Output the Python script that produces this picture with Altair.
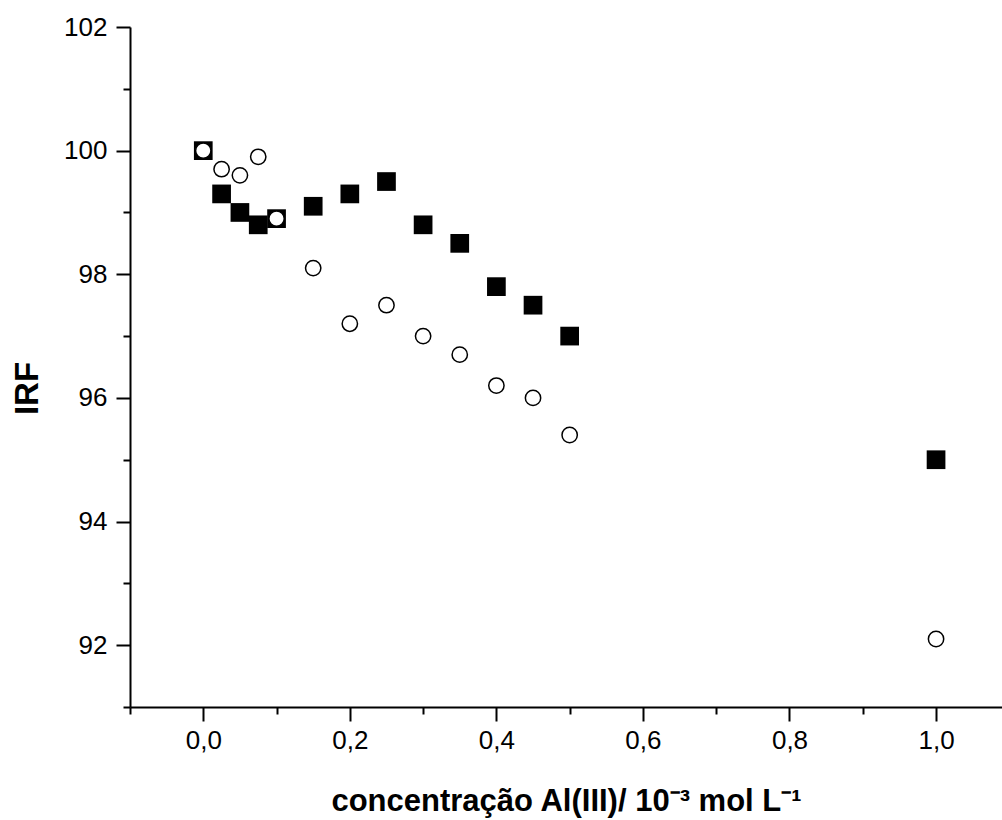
import altair as alt
import pandas as pd

# concentrations (10^-3 mol/L)
conc = [0.0, 0.025, 0.05, 0.075, 0.1, 0.15, 0.2, 0.25, 0.3, 0.35, 0.4, 0.45, 0.5, 1.0]
# filled squares
irf_squares = [100.0, 99.3, 99.0, 98.8, 98.9, 99.1, 99.3, 99.5, 98.8, 98.5, 97.8, 97.5, 97.0, 95.0]
# open circles
irf_circles = [100.0, 99.7, 99.6, 99.9, 98.9, 98.1, 97.2, 97.5, 97.0, 96.7, 96.2, 96.0, 95.4, 92.1]

x_ticks = [-0.1, 0.0, 0.1, 0.2, 0.3, 0.4, 0.5, 0.6, 0.7, 0.8, 0.9, 1.0]
y_ticks = [91, 92, 93, 94, 95, 96, 97, 98, 99, 100, 101, 102]

df_sq = pd.DataFrame({"x": conc, "y": irf_squares})
df_ci = pd.DataFrame({"x": conc, "y": irf_circles})

FONT = "Liberation Sans"
x_major = "abs(datum.value*5 - round(datum.value*5)) < 0.001"
y_major = "datum.value % 2 == 0"

x_enc = alt.X(
    "x:Q",
    scale=alt.Scale(domain=[-0.1, 1.09], nice=False, zero=False),
    axis=alt.Axis(
        values=x_ticks,
        title="concentração Al(III)/ 10⁻³ mol L⁻¹",
        titleFont=FONT, titleFontSize=31, titleFontWeight="bold", titleColor="black",
        titleBaseline="alphabetic", titleY=103,
        labelExpr=f"{x_major} ? replace(format(datum.value, '.1f'), '.', ',') : ''",
        labelFont=FONT, labelFontSize=26, labelColor="black", labelPadding=6,
        tickSize={"condition": {"test": x_major, "value": 14}, "value": 7},
        tickWidth=2, tickColor="black", domainColor="black", domainWidth=2,
        grid=False, labelFlush=False, labelOverlap=False,
    ),
)
y_enc = alt.Y(
    "y:Q",
    scale=alt.Scale(domain=[91, 102], nice=False, zero=False),
    axis=alt.Axis(
        values=y_ticks,
        title="IRF",
        titleFont=FONT, titleFontSize=33, titleFontWeight="bold", titleColor="black",
        titleAngle=270, titleBaseline="alphabetic", titleAlign="center",
        titleX=-93, titleY=361,
        labelExpr=f"{y_major} ? format(datum.value, 'd') : ''",
        labelFont=FONT, labelFontSize=26, labelColor="black", labelPadding=9,
        tickSize={"condition": {"test": y_major, "value": 14}, "value": 7},
        tickWidth=2, tickColor="black", domainColor="black", domainWidth=2,
        grid=False, labelFlush=False, labelOverlap=False,
    ),
)

squares = alt.Chart(df_sq).mark_point(
    shape="square", filled=True, color="black", size=350, opacity=1
).encode(x=x_enc, y=y_enc)

circles = alt.Chart(df_ci).mark_point(
    shape="circle", filled=False, fill="white", fillOpacity=1, stroke="black",
    strokeWidth=1.5, size=235, opacity=1
).encode(x=x_enc, y=y_enc)

chart = (
    alt.layer(squares, circles)
    .properties(
        width=872, height=680,
        padding={"left": 130, "top": 27, "right": 0, "bottom": 113},
        autosize=alt.AutoSizeParams(type="none"),
        background="white",
    )
    .configure_view(strokeWidth=0)
)

chart.save("out.html", embed_options={"renderer": "svg", "actions": False})
